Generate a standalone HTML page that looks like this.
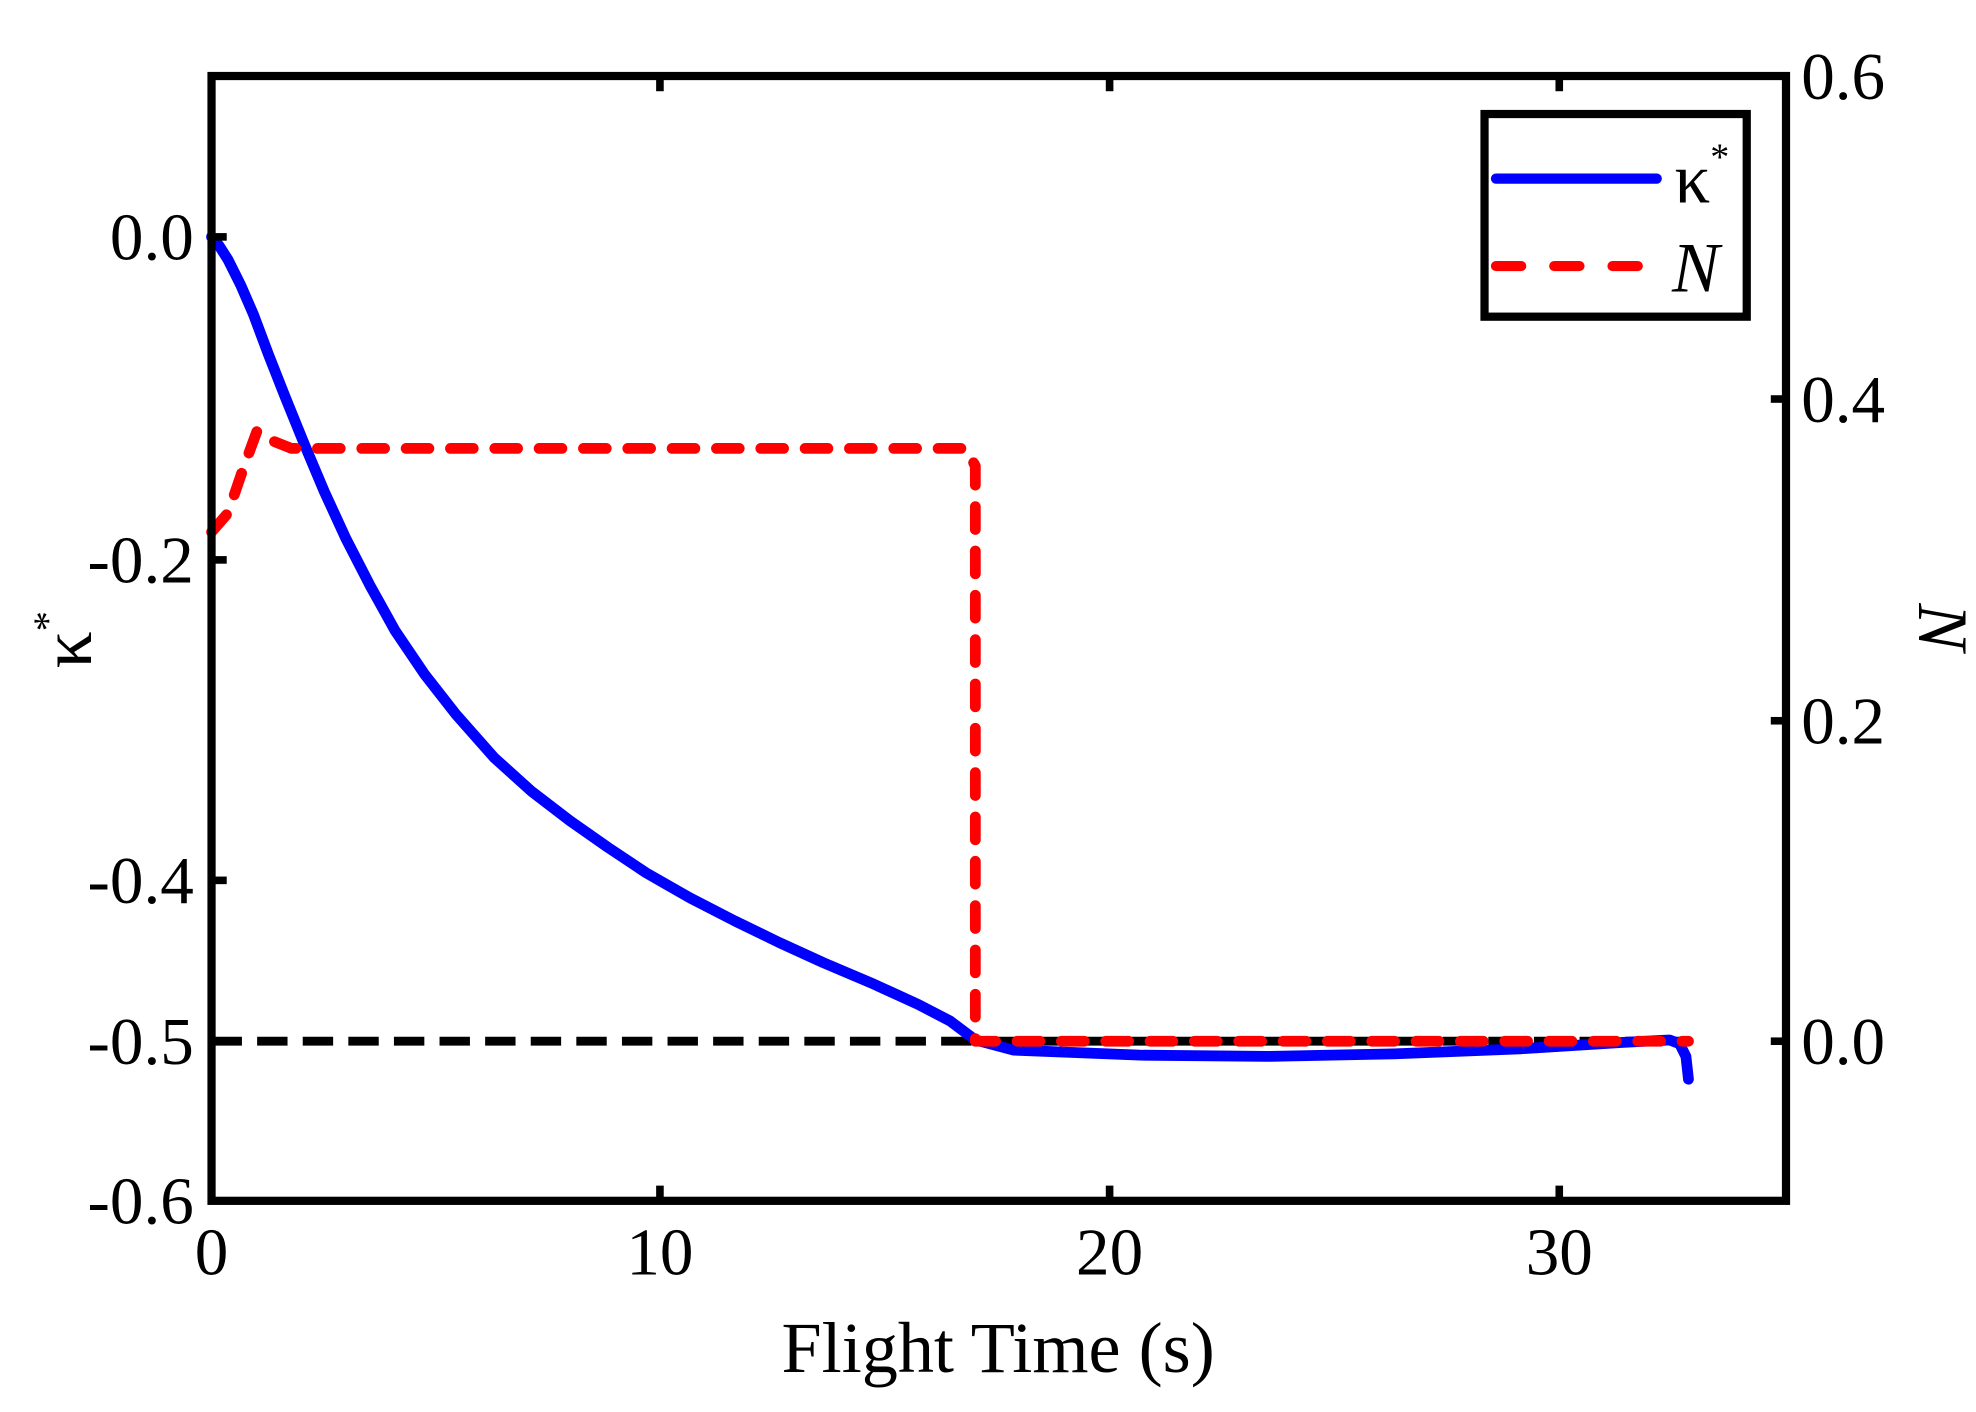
<!DOCTYPE html>
<html><head><meta charset="utf-8"><style>html,body{margin:0;padding:0;background:#fff}svg{display:block}</style></head>
<body>
<svg width="1976" height="1412" viewBox="0 0 1560 1114.7" xmlns="http://www.w3.org/2000/svg" font-family="Liberation Serif, serif">
<rect width="1560" height="1115" fill="#fff"/>
<line x1="167" y1="822" x2="1333" y2="822" stroke="#000" stroke-width="7" stroke-dasharray="24 12"/>
<polyline fill="none" stroke="#0000ff" stroke-width="8.5" stroke-linejoin="round" stroke-linecap="round"
points="167,187 173,194 180,205 190,225 200,248 212,280 225,313 240,350 256,388 273,425 292,462 312,498 335,532 360,564 390,598 420,625 450,648 480,669 510,689 545,709 580,727 615,744 650,760 690,777 725,793 750,806 770,821 800,829 850,831 900,833 1000,834 1100,832 1200,828 1280,823 1318,821 1326,824 1331,834 1333,852"/>
<polyline fill="none" stroke="#ff0000" stroke-width="8.5" stroke-linecap="round" stroke-linejoin="round" stroke-dasharray="18 17"
points="167,420 180,405 192,370 203,340 215,348 230,354 763,354 770,368 770,822 1333,822"/>
<rect x="167" y="60" width="1243" height="888" fill="none" stroke="#000" stroke-width="6.5"/>
<g stroke="#000" stroke-width="6">
<line x1="521" y1="948" x2="521" y2="936"/><line x1="876" y1="948" x2="876" y2="936"/><line x1="1231" y1="948" x2="1231" y2="936"/>
<line x1="521" y1="60" x2="521" y2="72"/><line x1="876" y1="60" x2="876" y2="72"/><line x1="1231" y1="60" x2="1231" y2="72"/>
<line x1="167" y1="187" x2="179" y2="187"/><line x1="167" y1="442" x2="179" y2="442"/><line x1="167" y1="695" x2="179" y2="695"/><line x1="167" y1="822" x2="179" y2="822"/>
<line x1="1410" y1="315" x2="1398" y2="315"/><line x1="1410" y1="569" x2="1398" y2="569"/><line x1="1410" y1="822" x2="1398" y2="822"/>
</g>
<g font-size="53" fill="#000">
<g text-anchor="middle">
<text x="167" y="1006">0</text><text x="521" y="1006">10</text><text x="876" y="1006">20</text><text x="1231" y="1006">30</text>
</g>
<g text-anchor="end">
<text x="153" y="205">0.0</text><text x="153" y="460">-0.2</text><text x="153" y="713">-0.4</text><text x="153" y="840">-0.5</text><text x="153" y="966">-0.6</text>
</g>
<g text-anchor="start">
<text x="1422" y="78">0.6</text><text x="1422" y="333">0.4</text><text x="1422" y="587">0.2</text><text x="1422" y="840">0.0</text>
</g>
</g>
<text x="788" y="1083" font-size="57" text-anchor="middle">Flight Time (s)</text>
<text transform="translate(72,505) rotate(-90)" font-size="58" text-anchor="middle">κ<tspan font-size="32" dy="-24">*</tspan></text>
<text transform="translate(1515,495) rotate(90)" font-size="56" font-style="italic" text-anchor="middle">N</text>
<rect x="1172" y="90" width="207" height="160" fill="#fff" stroke="#000" stroke-width="6.5"/>
<line x1="1181" y1="141" x2="1308" y2="141" stroke="#0000ff" stroke-width="8" stroke-linecap="round"/>
<line x1="1181" y1="210" x2="1308" y2="210" stroke="#ff0000" stroke-width="8" stroke-linecap="round" stroke-dasharray="20 26"/>
<text x="1322" y="160" font-size="56">κ<tspan font-size="30" dy="-26">*</tspan></text>
<text x="1320" y="230" font-size="56" font-style="italic">N</text>
</svg>
</body></html>
